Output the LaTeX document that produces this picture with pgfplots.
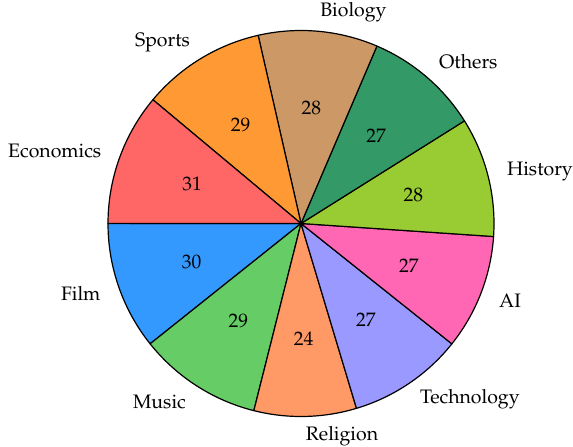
\documentclass[border=0pt]{standalone}
\usepackage[T1]{fontenc}
\usepackage{mathpazo}
\usepackage{pgfplots}
\pgfplotsset{compat=1.18}
\usepackage{pgfplotstable}
\definecolor{cFilm}{HTML}{3399FF}
\definecolor{cMusic}{HTML}{66CC66}
\definecolor{cReligion}{HTML}{FF9966}
\definecolor{cTechnology}{HTML}{9999FF}
\definecolor{cAI}{HTML}{FF66B3}
\definecolor{cHistory}{HTML}{99CC33}
\definecolor{cOthers}{HTML}{339966}
\definecolor{cBiology}{HTML}{CC9966}
\definecolor{cSports}{HTML}{FF9933}
\definecolor{cEconomics}{HTML}{FF6666}
\pgfplotstableread{
label value color
Film 30 cFilm
Music 29 cMusic
Religion 24 cReligion
Technology 27 cTechnology
AI 27 cAI
History 28 cHistory
Others 27 cOthers
Biology 28 cBiology
Sports 29 cSports
Economics 31 cEconomics
}\piedata
\begin{document}
\begin{tikzpicture}
\begin{axis}[scale only axis, width=573pt, height=447pt,
  xmin=-1.5596, xmax=1.4093, ymin=-1.1580, ymax=1.1580,
  hide axis, clip=false,
  font=\fontsize{19.5}{23.4}\selectfont]
\addplot[draw=none, forget plot] coordinates {(0,0)};
\pgfplotsextra{
  \path (rel axis cs:0,0) rectangle (rel axis cs:1,1);
  \begin{scope}[shift={(axis cs:0,0)}, x={(axis direction cs:1,0)}, y={(axis direction cs:0,1)}]
    \pgfplotstablegetrowsof{\piedata}
    \pgfmathtruncatemacro\lastrow{\pgfplotsretval-1}
    \xdef\total{0}
    \foreach \i in {0,...,\lastrow} {
      \pgfplotstablegetelem{\i}{value}\of\piedata
      \pgfmathsetmacro\t{\total+\pgfplotsretval}
      \xdef\total{\t}
    }
    \xdef\cum{180}
    \foreach \i in {0,...,\lastrow} {
      \pgfplotstablegetelem{\i}{value}\of\piedata \let\v\pgfplotsretval
      \pgfplotstablegetelem{\i}{label}\of\piedata \let\lab\pgfplotsretval
      \pgfplotstablegetelem{\i}{color}\of\piedata \let\col\pgfplotsretval
      \pgfmathsetmacro\a{\cum}
      \pgfmathsetmacro\b{\cum+\v/\total*360}
      \pgfmathsetmacro\m{(\a+\b)/2}
      \pgfmathsetmacro\side{cos(\m)<0 ? 1 : 0}
      \fill[fill=\col, draw=black, line width=1.2pt, line join=round] (0,0) -- (\a:1) arc[start angle=\a, end angle=\b, radius=1] -- cycle;
      \node[anchor=center, inner sep=0pt] at (\m:0.6) {\v};
      \ifdim\side pt>0.5pt
        \node[anchor=east, inner sep=0pt] at (\m:1.1) {\lab};
      \else
        \node[anchor=west, inner sep=0pt] at (\m:1.1) {\lab};
      \fi
      \xdef\cum{\b}
    }
  \end{scope}
}
\end{axis}
\end{tikzpicture}
\end{document}
